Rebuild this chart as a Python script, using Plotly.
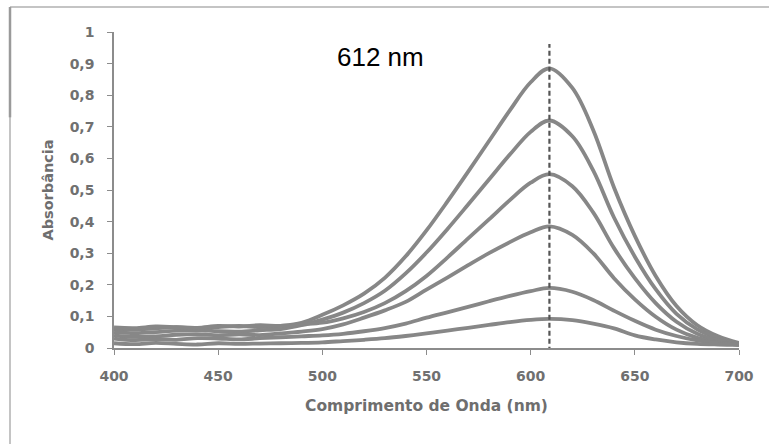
import plotly.graph_objects as go

wavelength = [400, 410, 420, 430, 440, 450, 460, 470, 480, 490,
              500, 510, 520, 530, 540, 550, 560, 570, 580, 590, 600, 609,
              620, 630, 640, 650, 660, 670, 680, 690, 700]

abs_1 = [0.060, 0.058, 0.062, 0.066, 0.062, 0.066, 0.070, 0.066, 0.070, 0.080,
         0.105, 0.135, 0.172, 0.222, 0.290, 0.372, 0.463, 0.558, 0.655, 0.752, 0.841, 0.885,
         0.823, 0.690, 0.508, 0.355, 0.228, 0.133, 0.072, 0.037, 0.016]
abs_2 = [0.050, 0.047, 0.050, 0.055, 0.057, 0.053, 0.052, 0.056, 0.060, 0.072,
         0.090, 0.112, 0.142, 0.181, 0.236, 0.302, 0.376, 0.454, 0.533, 0.612, 0.684, 0.720,
         0.670, 0.562, 0.413, 0.289, 0.186, 0.108, 0.059, 0.031, 0.014]
abs_3 = [0.065, 0.063, 0.068, 0.066, 0.064, 0.070, 0.068, 0.072, 0.070, 0.075,
         0.080, 0.094, 0.114, 0.142, 0.180, 0.228, 0.286, 0.347, 0.407, 0.468, 0.523, 0.550,
         0.512, 0.429, 0.316, 0.221, 0.142, 0.083, 0.045, 0.024, 0.012]
abs_4 = [0.040, 0.035, 0.037, 0.042, 0.044, 0.040, 0.043, 0.041, 0.046, 0.052,
         0.060, 0.075, 0.096, 0.119, 0.146, 0.185, 0.223, 0.262, 0.300, 0.335, 0.366, 0.385,
         0.358, 0.300, 0.221, 0.154, 0.099, 0.058, 0.032, 0.018, 0.010]
abs_5 = [0.030, 0.025, 0.028, 0.026, 0.031, 0.030, 0.027, 0.031, 0.034, 0.037,
         0.040, 0.045, 0.053, 0.063, 0.077, 0.096, 0.113, 0.130, 0.148, 0.165, 0.180, 0.190,
         0.178, 0.152, 0.118, 0.086, 0.058, 0.038, 0.024, 0.016, 0.010]
abs_6 = [0.015, 0.012, 0.016, 0.013, 0.011, 0.015, 0.013, 0.014, 0.015, 0.016,
         0.018, 0.022, 0.026, 0.031, 0.038, 0.046, 0.055, 0.064, 0.073, 0.082, 0.089, 0.092,
         0.088, 0.077, 0.062, 0.040, 0.027, 0.018, 0.013, 0.011, 0.010]

series = [abs_1, abs_2, abs_3, abs_4, abs_5, abs_6]

peak_nm = 609
peak_line_y = [-0.012, 0.962]
peak_label = "612 nm"

y_ticks = [0, 0.1, 0.2, 0.3, 0.4, 0.5, 0.6, 0.7, 0.8, 0.9, 1]
x_ticks = [400, 450, 500, 550, 600, 650, 700]

fig = go.Figure()
for s in series:
    fig.add_trace(go.Scatter(x=wavelength, y=s, mode="lines",
                             line=dict(color="#878787", width=3.8, shape="spline", smoothing=1.0),
                             showlegend=False, hoverinfo="skip", cliponaxis=False))

fig.add_trace(go.Scatter(x=[peak_nm, peak_nm], y=peak_line_y, mode="lines",
                         line=dict(color="#555555", width=2.2, dash="5px,3px"),
                         showlegend=False, hoverinfo="skip", cliponaxis=False))

tick_font = dict(family="DejaVu Sans", size=14, color="#707070", weight="bold")
title_color = "#6e6e6e"

fig.update_layout(
    width=769, height=444,
    margin=dict(l=114, r=30, t=32, b=96),
    paper_bgcolor="white", plot_bgcolor="white",
    separators=",.",
    xaxis=dict(range=[400, 700], tickvals=x_ticks, showgrid=False, zeroline=False,
               showline=True, linecolor="#8c8c8c", linewidth=1.5,
               ticks="outside", ticklen=5, tickcolor="#8c8c8c",
               tickfont=tick_font, ticklabelstandoff=9,
               title=dict(text="Comprimento de Onda (nm)",
                          font=dict(family="DejaVu Sans", size=15.5, color=title_color, weight="bold"),
                          standoff=18)),
    yaxis=dict(range=[0, 1], tickvals=y_ticks, showgrid=False, zeroline=False,
               showline=True, linecolor="#8c8c8c", linewidth=1.5,
               ticks="outside", ticklen=5, tickcolor="#8c8c8c",
               tickfont=tick_font, ticklabelstandoff=10,
               title=dict(text="Absorbância",
                          font=dict(family="DejaVu Sans", size=14.5, color=title_color, weight="bold"),
                          standoff=13)),
    annotations=[dict(x=527.7, y=0.921, xref="x", yref="y", text=peak_label,
                      showarrow=False, font=dict(family="Liberation Sans", size=26, color="black"))],
    shapes=[
        dict(type="line", xref="paper", yref="paper", x0=-0.1664, x1=1.06, y0=1.079, y1=1.079,
             line=dict(color="#c4c4c4", width=2)),
        dict(type="line", xref="paper", yref="paper", x0=-0.1664, x1=-0.1664, y0=1.079, y1=-0.31,
             line=dict(color="#c4c4c4", width=2)),
        dict(type="line", xref="paper", yref="paper", x0=-0.1664, x1=-0.1664, y0=1.079, y1=0.73,
             line=dict(color="#9a9a9a", width=2.5)),
    ],
)

fig.write_html("out.html", config={"displayModeBar": False},
               post_script="document.body.style.margin='0px';document.body.style.overflow='hidden';")
